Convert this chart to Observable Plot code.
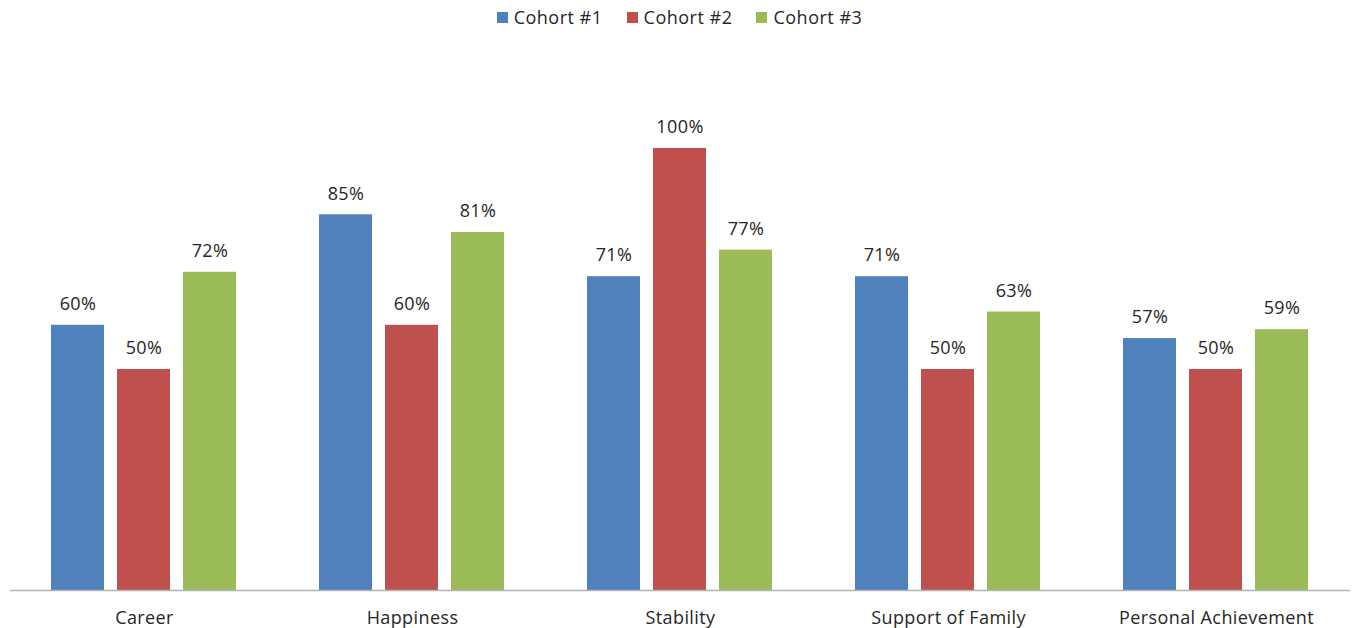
<!DOCTYPE html>
<html>
<head>
<meta charset="utf-8">
<script src="https://cdn.jsdelivr.net/npm/d3@7"></script>
<script src="https://cdn.jsdelivr.net/npm/@observablehq/plot@0.6"></script>
<style>
  html, body { margin: 0; padding: 0; background: #fff; }
  body { width: 1353px; height: 628px; overflow: hidden; font-family: "Open Sans", sans-serif; }
  #legend { height: 36px; display: flex; justify-content: center; align-items: center; gap: 24px; font-size: 18px; letter-spacing: 0.5px; color: #262626; padding-left: 6px; box-sizing: border-box; }
  #legend .item { display: flex; align-items: center; gap: 6px; position: relative; top: -1px; }
  #legend .sw { width: 11px; height: 11px; display: inline-block; }
</style>
</head>
<body>
<div id="legend"></div>
<div id="chart"></div>
<script>
const categories = ["Career", "Happiness", "Stability", "Support of Family", "Personal Achievement"];
const cohorts = ["Cohort #1", "Cohort #2", "Cohort #3"];
const colors = ["#4f81bd", "#c0504d", "#9bbb59"];
const cohort1 = [0.60, 0.85, 0.71, 0.71, 0.57];
const cohort2 = [0.50, 0.60, 1.00, 0.50, 0.50];
const cohort3 = [0.72, 0.81, 0.77, 0.63, 0.59];

const seriesValues = [cohort1, cohort2, cohort3];
const data = [];
categories.forEach((c, i) => {
  cohorts.forEach((k, j) => data.push({category: c, cohort: k, value: seriesValues[j][i]}));
});

// Legend row
const legend = d3.select("#legend");
cohorts.forEach((k, j) => {
  const item = legend.append("div").attr("class", "item");
  item.append("span").attr("class", "sw").style("background", colors[j]);
  item.append("span").text(k);
});

const chart = Plot.plot({
  width: 1353,
  height: 592,
  marginLeft: 8,
  marginRight: 2,
  marginTop: 112,
  marginBottom: 38,
  style: {fontFamily: "Open Sans, sans-serif", fontSize: "18px", color: "#262626", letterSpacing: "0.4px"},
  fx: {domain: categories, padding: 0, label: null},
  x: {domain: cohorts, paddingInner: 0.194, paddingOuter: 0.6, axis: null},
  y: {domain: [0, 1], axis: null},
  color: {domain: cohorts, range: colors},
  marks: [
    Plot.barY(data, {fx: "category", x: "cohort", y: "value", fill: "cohort"}),
    Plot.ruleY([0], {stroke: "#b3b3b3", strokeWidth: 1.3}),
    Plot.text(data, {fx: "category", x: "cohort", y: "value", text: d => `${Math.round(d.value * 100)}%`, dy: -21, lineAnchor: "middle", fill: "#262626", fontSize: 18}),
    Plot.axisFx({anchor: "bottom", tickSize: 0, tickPadding: 21, label: null, fontSize: 18})
  ]
});
document.getElementById("chart").appendChild(chart);
</script>
</body>
</html>
